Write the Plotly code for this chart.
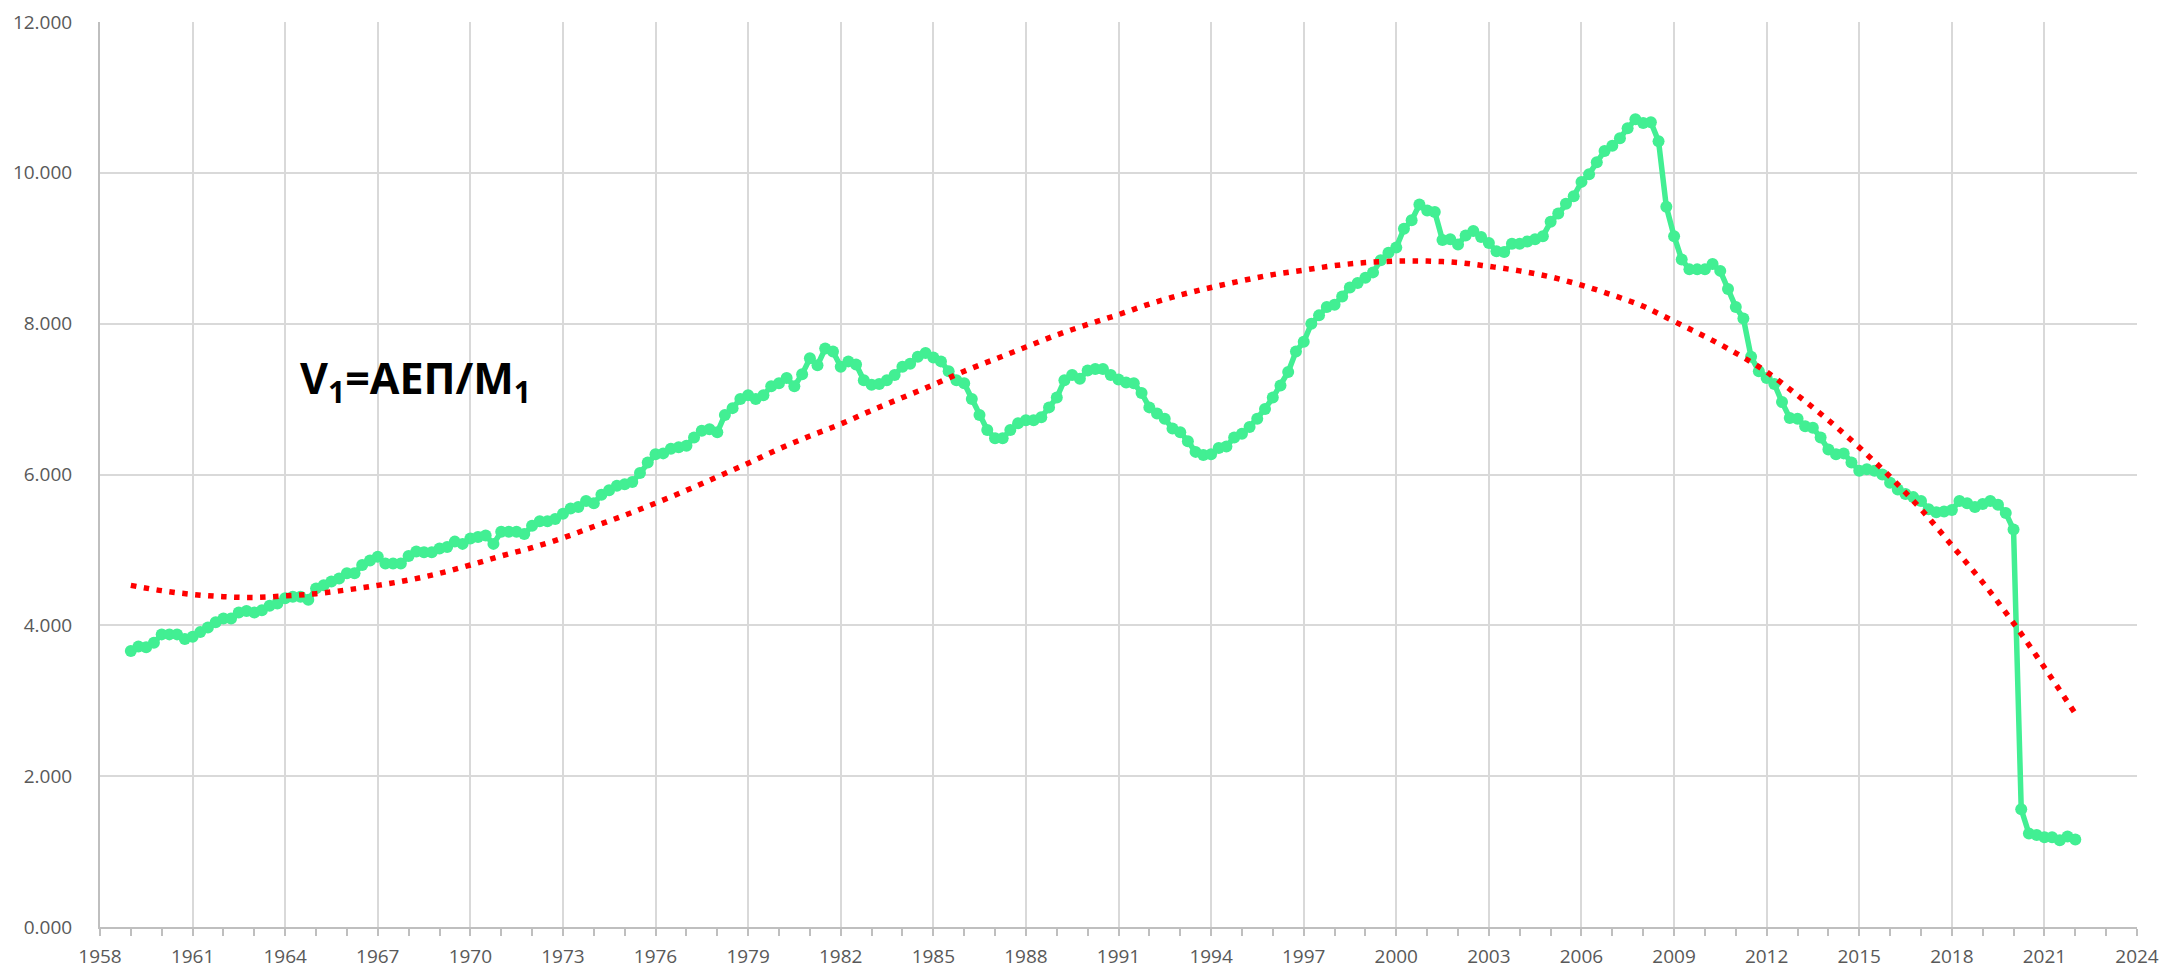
import pandas as pd
import plotly.graph_objects as go

# Quarterly velocity of M1 (V1 = GDP / M1), 1959Q1 .. 2022Q1
v1_1959_1970 = [
    3.66, 3.72, 3.71, 3.77,  3.88, 3.88, 3.88, 3.82,  3.85, 3.91, 3.97, 4.04,
    4.09, 4.09, 4.17, 4.19,  4.17, 4.20, 4.26, 4.29,  4.36, 4.38, 4.38, 4.34,
    4.49, 4.53, 4.58, 4.62,  4.69, 4.69, 4.80, 4.86,  4.91, 4.82, 4.82, 4.82,
    4.92, 4.98, 4.97, 4.97,  5.02, 5.04, 5.11, 5.08,  5.15, 5.17, 5.19, 5.08,
]
v1_1971_1982 = [
    5.24, 5.24, 5.24, 5.21,  5.32, 5.38, 5.38, 5.41,  5.48, 5.55, 5.57, 5.65,
    5.62, 5.73, 5.79, 5.85,  5.87, 5.90, 6.02, 6.16,  6.27, 6.28, 6.34, 6.36,
    6.38, 6.49, 6.58, 6.60,  6.56, 6.79, 6.88, 7.00,  7.05, 7.00, 7.05, 7.17,
    7.21, 7.28, 7.17, 7.33,  7.54, 7.45, 7.67, 7.63,  7.43, 7.50, 7.46, 7.25,
]
v1_1983_1994 = [
    7.19, 7.20, 7.25, 7.32,  7.43, 7.47, 7.56, 7.61,  7.55, 7.50, 7.37, 7.25,
    7.21, 7.00, 6.79, 6.59,  6.48, 6.48, 6.59, 6.68,  6.72, 6.72, 6.76, 6.89,
    7.02, 7.25, 7.32, 7.27,  7.38, 7.40, 7.40, 7.32,  7.26, 7.22, 7.21, 7.08,
    6.89, 6.81, 6.74, 6.61,  6.56, 6.44, 6.30, 6.26,  6.27, 6.35, 6.37, 6.49,
]
v1_1995_2006 = [
    6.54, 6.63, 6.74, 6.87,  7.02, 7.18, 7.36, 7.63,  7.76, 8.00, 8.11, 8.22,
    8.25, 8.36, 8.48, 8.54,  8.61, 8.68, 8.84, 8.94,  9.01, 9.26, 9.37, 9.58,
    9.50, 9.48, 9.11, 9.12,  9.05, 9.17, 9.23, 9.15,  9.07, 8.96, 8.95, 9.06,
    9.06, 9.09, 9.12, 9.16,  9.35, 9.46, 9.59, 9.69,  9.88, 9.98, 10.14, 10.29,
]
v1_2007_2022 = [
    10.36, 10.46, 10.59, 10.71,  10.66, 10.67, 10.42, 9.55,  9.16, 8.85, 8.72, 8.72,
    8.72, 8.79, 8.70, 8.46,  8.22, 8.07, 7.56, 7.37,  7.28, 7.20, 6.96, 6.75,
    6.74, 6.64, 6.62, 6.49,  6.33, 6.27, 6.28, 6.16,  6.05, 6.07, 6.05, 6.00,
    5.89, 5.80, 5.74, 5.70,  5.65, 5.54, 5.50, 5.51,  5.53, 5.65, 5.62, 5.57,
    5.61, 5.65, 5.60, 5.49,  5.27, 1.56, 1.24, 1.22,  1.19, 1.19, 1.15, 1.20,
    1.16,
]
v1_values = v1_1959_1970 + v1_1971_1982 + v1_1983_1994 + v1_1995_2006 + v1_2007_2022
v1_dates = pd.date_range("1959-01-01", periods=len(v1_values), freq="QS")

# Polynomial trend line, one value per 1 January
trend_years = list(range(1959, 2023))
trend_values = [
    4.53, 4.46, 4.41, 4.38, 4.37, 4.39, 4.42, 4.47, 4.53, 4.60,
    4.69, 4.80, 4.92, 5.03, 5.16, 5.31, 5.46, 5.62, 5.79, 5.97,
    6.15, 6.34, 6.51, 6.67, 6.85, 7.02, 7.19, 7.37, 7.53, 7.69,
    7.85, 7.99, 8.12, 8.26, 8.38, 8.48, 8.57, 8.65, 8.71, 8.77,
    8.81, 8.83, 8.83, 8.81, 8.76, 8.70, 8.62, 8.51, 8.38, 8.23,
    8.03, 7.83, 7.61, 7.36, 7.05, 6.72, 6.36, 5.97, 5.54, 5.06,
    4.57, 4.03, 3.44, 2.83,
]
trend_dates = [f"{y}-01-01" for y in trend_years]

y_ticks = [0, 2, 4, 6, 8, 10, 12]

fig = go.Figure()
fig.add_trace(go.Scatter(
    x=v1_dates, y=v1_values, mode="lines+markers",
    line=dict(color="#42EF93", width=5.5),
    marker=dict(color="#42EF93", size=12, line=dict(width=0)),
    showlegend=False, hoverinfo="x+y",
))
fig.add_trace(go.Scatter(
    x=trend_dates, y=trend_values, mode="lines",
    line=dict(color="#FF0000", width=5.5, dash="5.5px,7.5px", shape="spline"),
    showlegend=False, hoverinfo="skip",
))

fig.add_annotation(
    text="<b>V<sub>1</sub>=ΑΕΠ/M<sub>1</sub></b>",
    xref="paper", yref="paper", x=0.097, y=0.604, xanchor="left", yanchor="middle",
    showarrow=False, font=dict(family="Open Sans, Liberation Sans, sans-serif", size=43, color="#000000"),
)

axis_font = dict(family="Open Sans, Liberation Sans, sans-serif", size=19, color="#595959")
fig.update_xaxes(
    type="date", range=["1958-01-01", "2024-01-01"],
    tick0="1958-01-01", dtick="M36", tickformat="%Y",
    showgrid=True, gridcolor="#D9D9D9", gridwidth=2,
    showline=True, linecolor="#BFBFBF", linewidth=2,
    ticks="outside", ticklen=7, tickcolor="#BFBFBF", tickwidth=1.5,
    minor=dict(dtick="M12", ticks="outside", ticklen=7, tickcolor="#BFBFBF", tickwidth=1.5, showgrid=False),
    tickfont=axis_font, zeroline=False, ticklabelstandoff=4, automargin=False,
    ticklabeloverflow="allow",
)
fig.update_yaxes(
    range=[0, 12], tickvals=y_ticks, tickformat=".3f",
    showgrid=True, gridcolor="#D9D9D9", gridwidth=2,
    showline=True, linecolor="#BFBFBF", linewidth=2,
    ticks="", tickfont=axis_font, zeroline=False, ticklabelstandoff=22, automargin=False,
    ticklabeloverflow="allow",
)
fig.update_layout(
    width=2174, height=965,
    margin=dict(l=92, r=45, t=14, b=46),
    paper_bgcolor="white", plot_bgcolor="white",
)
fig.write_html("out.html")
